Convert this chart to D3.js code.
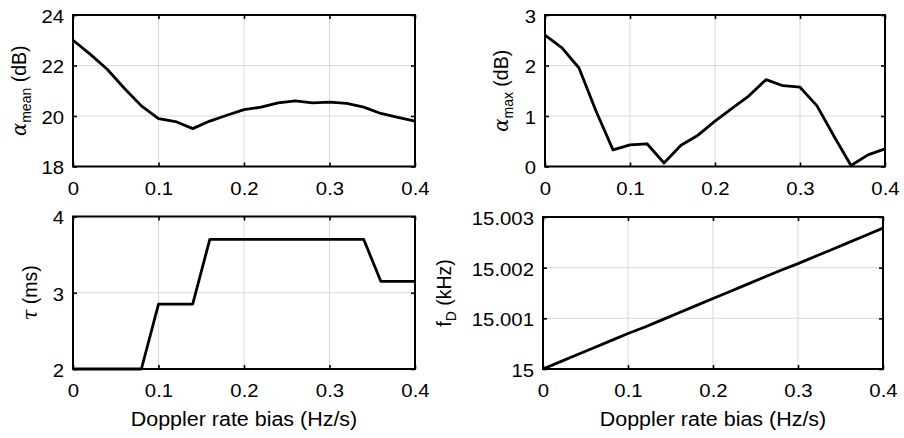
<!DOCTYPE html>
<html>
<head>
<meta charset="utf-8">
<script src="https://cdn.jsdelivr.net/npm/d3@7"></script>
<style>
  body { margin: 0; background: #fff; }
  text { font-family: "Liberation Sans", Arial, Helvetica, sans-serif; fill: #000; }
  .grid line { stroke: #d9d9d9; stroke-width: 1; }
  .tick line { stroke: #000; stroke-width: 1.6; }
  .line { fill: none; stroke: #000; stroke-width: 2.8; stroke-linejoin: round; }
</style>
</head>
<body>
<svg id="chart" width="904" height="438"></svg>
<script>
// doppler rate bias (Hz/s)
var bias = [0, 0.02, 0.04, 0.06, 0.08, 0.1, 0.12, 0.14, 0.16, 0.18, 0.2,
            0.22, 0.24, 0.26, 0.28, 0.3, 0.32, 0.34, 0.36, 0.38, 0.4];

var alphaMean = [23.0, 22.45, 21.85, 21.1, 20.4, 19.9, 19.78, 19.5, 19.8, 20.03, 20.25,
                 20.35, 20.52, 20.6, 20.52, 20.55, 20.5, 20.35, 20.1, 19.95, 19.8];
var alphaMax = [2.6, 2.35, 1.95, 1.1, 0.33, 0.43, 0.45, 0.07, 0.42, 0.62, 0.9,
                1.15, 1.4, 1.72, 1.6, 1.57, 1.2, 0.6, 0.02, 0.23, 0.35];
var tau = [2, 2, 2, 2, 2, 2.85, 2.85, 2.85, 3.7, 3.7, 3.7,
           3.7, 3.7, 3.7, 3.7, 3.7, 3.7, 3.7, 3.15, 3.15, 3.15];
var fD = [15.0, 15.00014, 15.00028, 15.00042, 15.00056, 15.0007, 15.00083, 15.00097, 15.00111, 15.00125, 15.00139,
          15.00153, 15.00167, 15.00181, 15.00195, 15.00208, 15.00222, 15.00236, 15.0025, 15.00264, 15.00278];

var xTicks = [0, 0.1, 0.2, 0.3, 0.4];
var xLabel = "Doppler rate bias (Hz/s)";

var svg = d3.select("#chart");

function drawPanel(p) {
    var w = p.right - p.left,
        h = p.bottom - p.top;
    var g = svg.append("g").attr("transform", "translate(" + p.left + "," + p.top + ")");

    var x = d3.scaleLinear().domain([0, 0.4]).range([0, w]),
        y = d3.scaleLinear().domain(p.yDomain).range([h, 0]);

    // grid
    var grid = g.append("g").attr("class", "grid");
    grid.selectAll(".gx").data(xTicks.slice(1, -1)).enter().append("line")
        .attr("x1", x).attr("x2", x).attr("y1", 0).attr("y2", h);
    grid.selectAll(".gy").data(p.yTicks.slice(1, -1)).enter().append("line")
        .attr("y1", y).attr("y2", y).attr("x1", 0).attr("x2", w);

    // data line
    var line = d3.line()
        .x(function(d, i) { return x(bias[i]); })
        .y(function(d) { return y(d); });
    g.append("path")
        .datum(p.values)
        .attr("class", "line")
        .attr("d", line);

    // inward ticks on all four sides
    var fmt = p.yFormat || function(d) { return d; };
    var bx = g.append("g").attr("transform", "translate(0," + h + ")")
        .call(d3.axisBottom(x).tickValues(xTicks).tickSize(-4).tickFormat(function(d) { return d; }));
    g.append("g")
        .call(d3.axisTop(x).tickValues(xTicks).tickSize(-4).tickFormat(""));
    var ly = g.append("g")
        .call(d3.axisLeft(y).tickValues(p.yTicks).tickSize(-4).tickPadding(9).tickFormat(fmt));
    g.append("g").attr("transform", "translate(" + w + ",0)")
        .call(d3.axisRight(y).tickValues(p.yTicks).tickSize(-4).tickFormat(""));
    g.selectAll(".domain").remove();

    bx.selectAll("text").attr("font-size", 18.5).attr("dy", "0.71em").attr("y", 15).attr("class", "stretch");
    ly.selectAll("text").attr("font-size", 18.5).attr("dy", "0.4em").attr("class", "stretch");

    // box
    g.append("rect")
        .attr("width", w).attr("height", h)
        .attr("fill", "none").attr("stroke", "#000").attr("stroke-width", 2);

    // y label
    var yl = g.append("text")
        .attr("transform", "translate(" + (-p.yLabelOffset) + "," + (h / 2) + ") rotate(-90)")
        .attr("text-anchor", "middle")
        .attr("font-size", 19.5);
    p.yLabel(yl);

    if (p.showX) {
        g.append("text")
            .attr("class", "stretch")
            .attr("x", w / 2)
            .attr("y", h + 57)
            .attr("text-anchor", "middle")
            .attr("font-size", 19.5)
            .text(xLabel);
    }
}

function alphaLabel(sub) {
    return function(t) {
        t.append("tspan").attr("font-family", "'DejaVu Serif', serif").attr("font-style", "italic").text("α");
        t.append("tspan").attr("font-size", 14).attr("dy", 5).text(sub);
        t.append("tspan").attr("dy", -5).text(" (dB)");
    };
}

drawPanel({left: 73, right: 415, top: 15, bottom: 166.5, values: alphaMean,
    yDomain: [18, 24], yTicks: [18, 20, 22, 24], yLabelOffset: 47, yLabel: alphaLabel("mean")});
drawPanel({left: 545, right: 885, top: 15, bottom: 166.5, values: alphaMax,
    yDomain: [0, 3], yTicks: [0, 1, 2, 3], yLabelOffset: 37, yLabel: alphaLabel("max")});
drawPanel({left: 73, right: 415, top: 216.5, bottom: 369, values: tau, showX: true,
    yDomain: [2, 4], yTicks: [2, 3, 4], yLabelOffset: 36,
    yLabel: function(t) {
        t.append("tspan").attr("font-family", "'DejaVu Serif', serif").attr("font-style", "italic").text("τ");
        t.append("tspan").text(" (ms)");
    }});
drawPanel({left: 543, right: 883, top: 217, bottom: 369, values: fD, showX: true,
    yDomain: [15, 15.003], yTicks: [15, 15.001, 15.002, 15.003], yLabelOffset: 92,
    yFormat: function(d) { return d === 15 ? "15" : d.toFixed(3); },
    yLabel: function(t) {
        t.append("tspan").text("f");
        t.append("tspan").attr("font-size", 14).attr("dy", 5).text("D");
        t.append("tspan").attr("dy", -5).text(" (kHz)");
    }});

// the figure is a little wider than tall, stretch horizontal text to match
svg.selectAll("text.stretch").each(function() {
    var len = this.getComputedTextLength();
    d3.select(this).attr("textLength", len * 1.1).attr("lengthAdjust", "spacingAndGlyphs");
});
</script>
</body>
</html>
